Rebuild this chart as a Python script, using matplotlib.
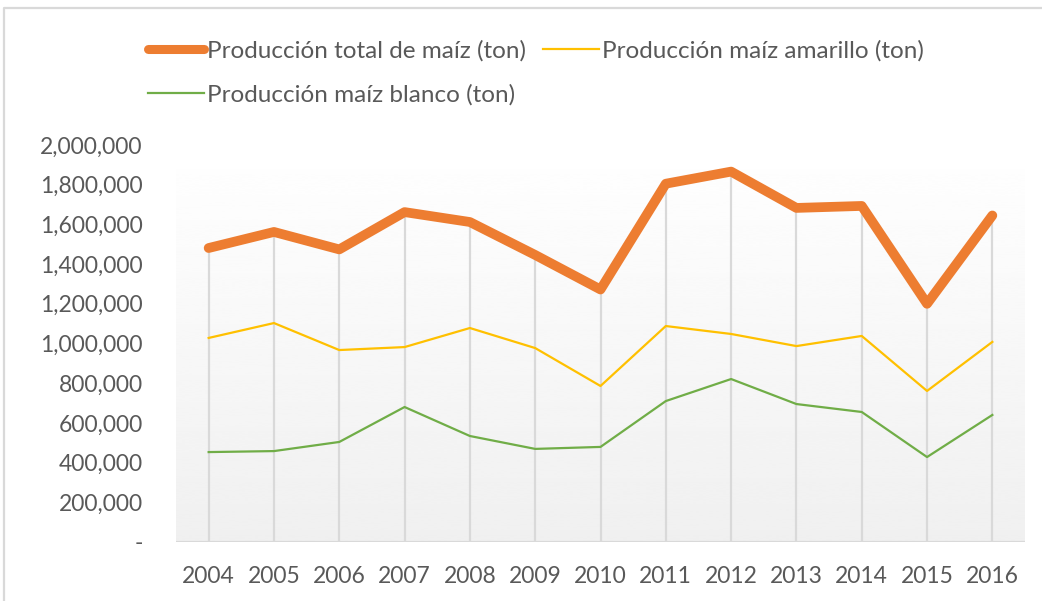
import numpy as np
import matplotlib.pyplot as plt
from matplotlib.lines import Line2D
from matplotlib.ticker import FuncFormatter

years = ['2004', '2005', '2006', '2007', '2008', '2009', '2010',
         '2011', '2012', '2013', '2014', '2015', '2016']
total = [1481000, 1562000, 1474000, 1662000, 1612000, 1446000, 1272000,
         1805000, 1866000, 1683000, 1693000, 1200000, 1645000]
amarillo = [1028000, 1103000, 967000, 982000, 1078000, 977000, 786000,
            1088000, 1048000, 987000, 1038000, 761000, 1008000]
blanco = [453000, 458000, 504000, 680000, 534000, 469000, 479000,
          710000, 821000, 695000, 655000, 428000, 640000]

labels = ['Producción total de maíz (ton)', 'Producción maíz amarillo (ton)',
          'Producción maíz blanco (ton)']

plt.rcParams['font.family'] = ['Lato', 'DejaVu Sans']
txt = '#595959'

fig = plt.figure(figsize=(10.42, 6.01), dpi=100)
# outer chart border (left and top edges only are visible)
fig.lines.append(Line2D([4 / 1042, 4 / 1042, 1], [0, 1 - 8 / 601, 1 - 8 / 601],
                        transform=fig.transFigure, color='#d9d9d9', lw=1.6))

ax = fig.add_axes([176 / 1042, 59 / 601, 849 / 1042, 397 / 601])
x = np.arange(len(years))

# gradient plot area
grad = np.linspace(1, 0.94, 256).reshape(-1, 1)
ax.imshow(grad, extent=(-0.5, 12.5, 0, 2000000), aspect='auto', cmap='gray',
          vmin=0, vmax=1, zorder=0, interpolation='bicubic')

ax.vlines(x, 0, total, color='#d9d9d9', lw=1.6, zorder=1)
ax.axhline(0, color='#d9d9d9', lw=1.6, zorder=1)

ax.plot(x, total, color='#ED7D31', lw=7, solid_capstyle='round',
        solid_joinstyle='round', zorder=3)
ax.plot(x, amarillo, color='#FFC000', lw=1.6, zorder=3)
ax.plot(x, blanco, color='#70AD47', lw=1.6, zorder=3)

ax.set_xlim(-0.5, 12.5)
ax.set_ylim(0, 2000000)
ax.set_yticks(np.arange(0, 2000001, 200000))
ax.yaxis.set_major_formatter(FuncFormatter(lambda v, p: '-' if v == 0 else f'{int(v):,}'))
ax.set_xticks(x)
ax.set_xticklabels(years)
ax.tick_params(axis='y', length=0, pad=24, labelsize=16.5, labelcolor=txt)
ax.tick_params(axis='x', length=0, pad=17, labelsize=16.5, labelcolor=txt)
for s in ax.spines.values():
    s.set_visible(False)

handles = [Line2D([], [], color='#ED7D31', lw=6.5, solid_capstyle='round'),
           Line2D([], [], color='#70AD47', lw=1.6),
           Line2D([], [], color='#FFC000', lw=1.6)]
leg = fig.legend(handles, [labels[0], labels[2], labels[1]], ncol=2,
                 loc='upper left', bbox_to_anchor=(136 / 1042, 1 - 28 / 601),
                 frameon=False, fontsize=17.5, labelcolor=txt, borderpad=0,
                 handlelength=2.3, handletextpad=0.12, columnspacing=0.7,
                 labelspacing=0.92)

fig.savefig('out.png', dpi=100)
